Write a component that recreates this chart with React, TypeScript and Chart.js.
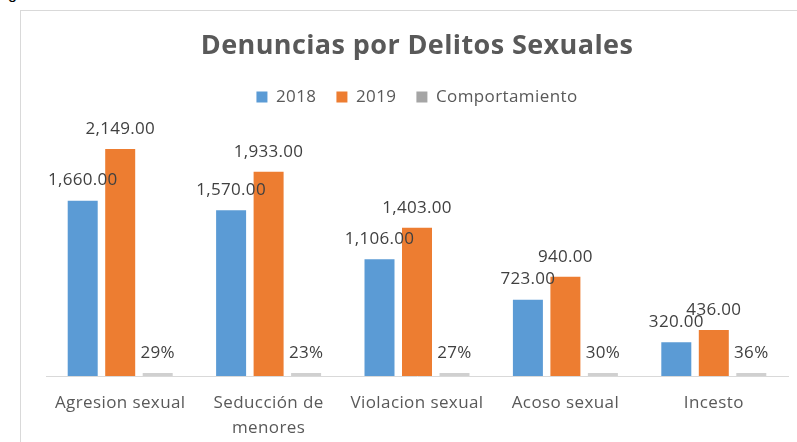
import React, { useEffect, useRef } from "react";
import { Chart, registerables } from "chart.js";

Chart.register(...registerables);

const categories: (string | string[])[] = [
  "Agresion sexual",
  ["Seducción de", "menores"],
  "Violacion sexual",
  "Acoso sexual",
  "Incesto",
];
const values2018 = [1660, 1570, 1106, 723, 320];
const values2019 = [2149, 1933, 1403, 940, 436];
const comportamiento = [0.29, 0.23, 0.27, 0.3, 0.36];

const seriesNames = ["2018", "2019", "Comportamiento"];
const legendColors = ["#5B9BD5", "#ED7D31", "#A5A5A5"];

const FONT = "'Open Sans', 'Noto Sans', sans-serif";

const spacingPlugin = {
  id: "letterSpacing",
  beforeLayout(chart: any) {
    chart.ctx.letterSpacing = "0.4px";
  },
  beforeDraw(chart: any) {
    chart.ctx.letterSpacing = "0.4px";
  },
};

const labelPlugin = {
  id: "barLabels",
  afterDatasetsDraw(chart: any) {
    const ctx = chart.ctx;
    ctx.save();
    ctx.letterSpacing = "0.3px";
    ctx.font = `17px ${FONT}`;
    ctx.fillStyle = "#404040";
    ctx.textAlign = "center";
    ctx.textBaseline = "middle";
    chart.data.datasets.forEach((ds: any, di: number) => {
      const meta = chart.getDatasetMeta(di);
      meta.data.forEach((bar: any, i: number) => {
        const v = ds.data[i];
        const txt =
          di === 2
            ? Math.round(v * 100) + "%"
            : v.toLocaleString("en-US", { minimumFractionDigits: 2, maximumFractionDigits: 2 });
        ctx.fillText(txt, bar.x, Math.min(bar.y, bar.base) - 20);
      });
    });
    ctx.restore();
  },
};

export default function App() {
  const ref = useRef<HTMLCanvasElement>(null);
  useEffect(() => {
    if (!ref.current) return;
    const chart = new Chart(ref.current, {
      type: "bar",
      data: {
        labels: categories,
        datasets: [
          { label: seriesNames[0], data: values2018, backgroundColor: legendColors[0] },
          { label: seriesNames[1], data: values2019, backgroundColor: legendColors[1] },
          { label: seriesNames[2], data: comportamiento, backgroundColor: "#D0D0D0", minBarLength: 3 },
        ],
      },
      options: {
        animation: false,
        responsive: false,
        maintainAspectRatio: false,
        layout: { padding: { left: 46, right: 9, top: 0, bottom: 0 } },
        datasets: {
          bar: { categoryPercentage: 0.758, barPercentage: 0.8 },
        },
        plugins: {
          tooltip: { enabled: false },
          title: {
            display: true,
            text: "Denuncias por Delitos Sexuales",
            color: "#595959",
            font: { family: FONT, size: 27, weight: "bold" },
            padding: { top: 30, bottom: 6 },
          },
          legend: {
            display: true,
            labels: {
              color: "#595959",
              font: { family: FONT, size: 17 },
              boxWidth: 11,
              boxHeight: 11,
              padding: 20,
              generateLabels(chart: any) {
                const items = Chart.defaults.plugins.legend.labels.generateLabels(chart);
                items.forEach((it: any, i: number) => {
                  it.fillStyle = legendColors[i];
                  it.strokeStyle = legendColors[i];
                  it.lineWidth = 0;
                });
                return items;
              },
            },
          },
        },
        scales: {
          x: {
            grid: { display: false, drawTicks: false },
            border: { display: true, color: "#D9D9D9", width: 1 },
            ticks: {
              color: "#595959",
              font: { family: FONT, size: 17, lineHeight: 1.47 },
              padding: 15,
              maxRotation: 0,
              autoSkip: false,
            },
            afterFit(scale: any) {
              scale.height = 66;
            },
          },
          y: {
            display: false,
            min: 0,
            max: 2467,
          },
        },
      },
      plugins: [spacingPlugin, labelPlugin],
    });
    return () => chart.destroy();
  }, []);

  return (
    <div
      style={{
        position: "fixed",
        left: 0,
        top: 0,
        width: 797,
        height: 442,
        overflow: "hidden",
        background: "#fff",
      }}
    >
      <div
        style={{
          position: "absolute",
          left: 8,
          top: -15,
          fontFamily: "Arial, sans-serif",
          fontSize: 16,
          color: "#000",
        }}
      >
        g
      </div>
      <div
        style={{
          position: "absolute",
          left: 20,
          top: 10,
          width: 900,
          height: 600,
          border: "1px solid #D9D9D9",
          boxSizing: "border-box",
        }}
      />
      <canvas ref={ref} width={797} height={442} style={{ position: "absolute", left: 0, top: 0 }} />
    </div>
  );
}
